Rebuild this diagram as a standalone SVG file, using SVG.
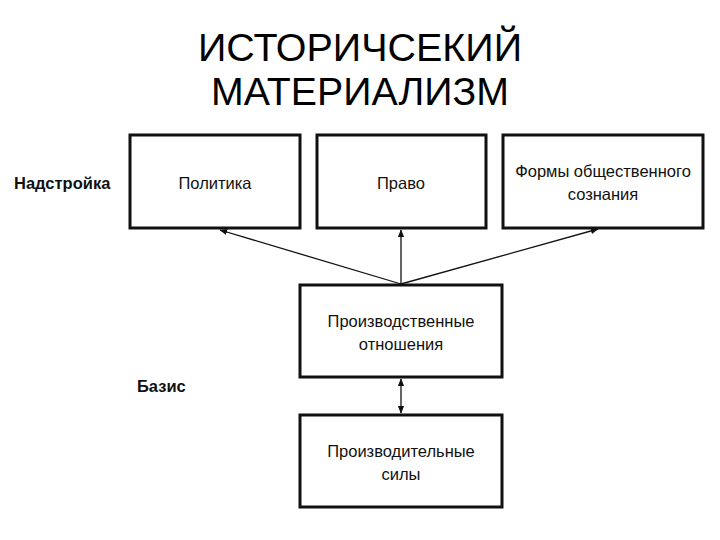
<svg xmlns="http://www.w3.org/2000/svg" width="720" height="540" viewBox="0 0 720 540">
<style>
.box{fill:#fff;stroke:#111;stroke-width:3}
.t{font-family:"Liberation Sans",Arial,sans-serif;font-size:16.5px;fill:#111;text-anchor:middle}
.b{font-family:"Liberation Sans",Arial,sans-serif;font-size:16.5px;font-weight:bold;fill:#111}
.title{font-family:"Liberation Sans",Arial,sans-serif;font-size:38px;fill:#000;text-anchor:middle}
.c{stroke:#111;stroke-width:1.3;fill:none}
</style>
<defs>
<marker id="ah" viewBox="0 0 10 10" refX="9" refY="5" markerWidth="8" markerHeight="8" orient="auto-start-reverse" markerUnits="userSpaceOnUse">
<path d="M0,1 L10,5 L0,9 Z" fill="#111"/>
</marker>
</defs>
<rect width="720" height="540" fill="#fff"/>
<text class="title" x="360" y="61" textLength="324" lengthAdjust="spacingAndGlyphs">ИСТОРИЧСЕКИЙ</text>
<text class="title" x="360" y="105" textLength="298" lengthAdjust="spacingAndGlyphs">МАТЕРИАЛИЗМ</text>
<text class="b" x="14" y="189">Надстройка</text>
<text class="b" x="137" y="392">Базис</text>
<g id="connectors">
<line class="c" x1="401" y1="284" x2="401" y2="230" marker-end="url(#ah)"/>
<line class="c" x1="401" y1="284" x2="220" y2="230" marker-end="url(#ah)"/>
<line class="c" x1="401" y1="284" x2="598" y2="229" marker-end="url(#ah)"/>
<line class="c" x1="401" y1="379" x2="401" y2="413" marker-start="url(#ah)" marker-end="url(#ah)"/>
</g>
<g id="politika">
<rect class="box" x="130" y="135" width="170" height="93"/>
<text class="t" x="215" y="189">Политика</text>
</g>
<g id="pravo">
<rect class="box" x="317" y="135" width="169" height="93"/>
<text class="t" x="401" y="189">Право</text>
</g>
<g id="formy">
<rect class="box" x="503" y="135" width="200" height="93"/>
<text class="t" x="603" y="177">Формы общественного</text>
<text class="t" x="603" y="200">сознания</text>
</g>
<g id="otnosheniya">
<rect class="box" x="300" y="285" width="202" height="92"/>
<text class="t" x="401" y="327">Производственные</text>
<text class="t" x="401" y="350">отношения</text>
</g>
<g id="sily">
<rect class="box" x="300" y="415" width="202" height="92"/>
<text class="t" x="401" y="457">Производительные</text>
<text class="t" x="401" y="480">силы</text>
</g>
</svg>
